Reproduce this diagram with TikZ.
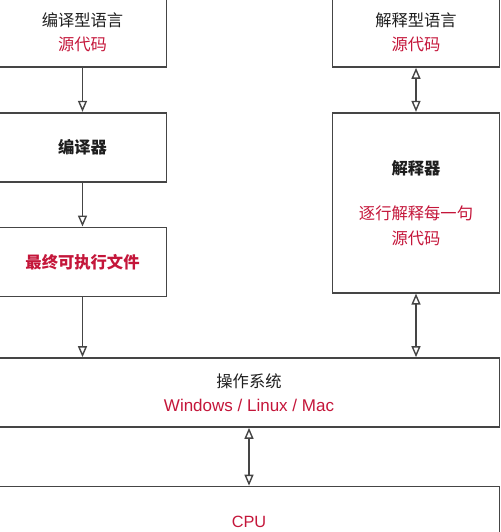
\documentclass[tikz,border=0pt]{standalone}
\usepackage{fontspec}
\setmainfont{Noto Sans CJK SC}
\newfontfamily\lat{Liberation Sans}
\usepackage{xcolor}
\definecolor{Ink}{HTML}{1E1E1E}
\definecolor{Edge}{HTML}{454545}
\definecolor{Crimson}{HTML}{C4163A}
\usetikzlibrary{arrows.meta,positioning}

\begin{document}
\begin{tikzpicture}[
  x=1pt,y=-1pt,
  node distance=44pt,
  every node/.style={font=\fontsize{16.3}{24.5}\selectfont,align=center,text=Ink},
  box/.style={draw=Edge,line width=1.7pt,minimum width=167pt,minimum height=69pt,inner sep=0pt},
  wide/.style={box,minimum width=501pt},
  flow/.style={-{Triangle[open,length=11pt,width=9pt]},line width=1.4pt,draw=Edge},
  both/.style={{Triangle[open,length=11pt,width=9pt]}-{Triangle[open,length=11pt,width=9pt]},line width=1.4pt,draw=Edge}
]
\useasboundingbox (0,0) rectangle (500,532);
\newcommand{\hl}[1]{\textcolor{Crimson}{#1}}
% compiled
\node[box,minimum width=168pt] (csrc) at (82.5,32.5) {编译型语言\\\hl{源代码}};
\node[box,below=of csrc,minimum width=168pt] (compiler) {\textbf{编译器}};
\node[box,below=of compiler,minimum width=168pt] (exe) {\hl{\textbf{最终可执行文件}}};
% interpreted
\node[box] (isrc) at (416,32.5) {解释型语言\\\hl{源代码}};
\node[box,below=of isrc,minimum height=180pt] (interp)
  {\textbf{解释器}\\[21pt]\hl{逐行解释每一句}\\\hl{源代码}};
% system
\node[wide] (os) at (249,392.5) {操作系统\\\hl{\lat\fontsize{17}{24.5}\selectfont Windows / Linux / Mac}};
\node[wide,minimum height=70pt] (cpu) at (249,521.5) {\hl{\lat CPU}};

\draw[flow] (csrc) -- (compiler);
\draw[flow] (compiler) -- (exe);
\draw[flow] (exe) -- (exe.south |- os.north);
\draw[both] (isrc) -- (interp);
\draw[both] (interp) -- (interp.south |- os.north);
\draw[both] (os) -- (cpu);
\end{tikzpicture}
\end{document}
